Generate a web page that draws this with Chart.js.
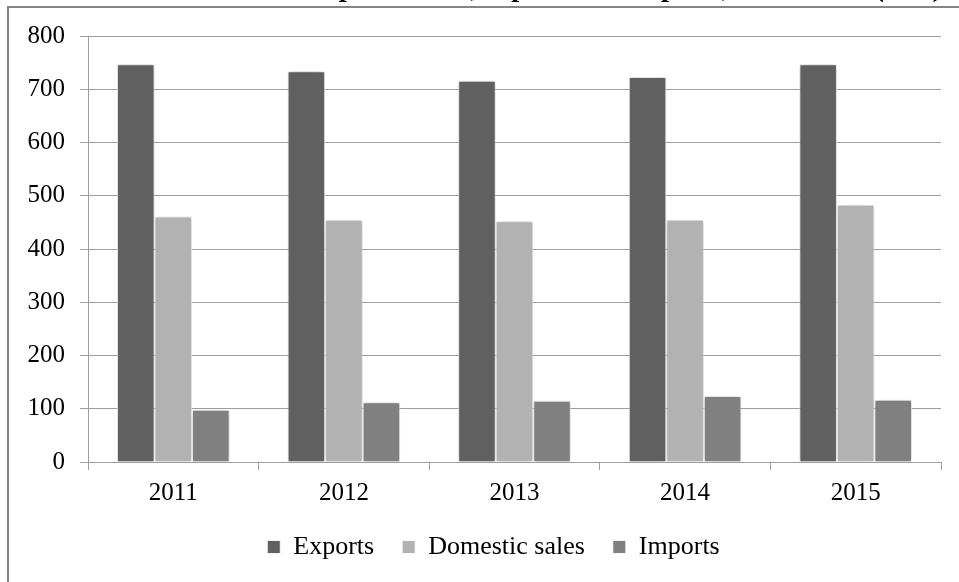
<!DOCTYPE html>
<html>
<head>
<meta charset="utf-8">
<script src="https://cdn.jsdelivr.net/npm/chart.js@4"></script>
<style>
  html, body { margin: 0; padding: 0; background: #fff; overflow: hidden; }
  #frame {
    position: absolute; left: 7px; top: 6px; width: 960px; height: 600px;
    border-left: 2px solid #858585; border-top: 2px solid #858585;
  }
  #wrap { position: absolute; left: 0; top: 0; width: 959px; height: 600px; }
</style>
</head>
<body>
<div id="frame"></div>
<div id="wrap"><canvas id="salesChart" width="959" height="600"></canvas></div>
<script>
// Data
const years = ["2011", "2012", "2013", "2014", "2015"];
const exportsData = [747, 734, 716, 723, 747];
const domesticData = [461, 455, 452, 455, 483];
const importsData = [98, 112, 115, 124, 117];
const yTicks = [0, 100, 200, 300, 400, 500, 600, 700, 800];

// Title line sits mostly above the visible area, only its descenders show
const titleText = "production, exports and imports, home sales (tons)";

const serif = "'Liberation Serif', 'Times New Roman', serif";
const gridGrey = "#9d9d9d";

// soft drop shadow under the bars
const barShadow = {
  id: "barShadow",
  beforeDatasetsDraw(chart) {
    const ctx = chart.ctx;
    ctx.save();
    ctx.shadowColor = "rgba(0, 0, 0, 0.28)";
    ctx.shadowBlur = 5;
  },
  afterDatasetsDraw(chart) {
    chart.ctx.restore();
  },
};

// y labels are clipped to the axis box, so widen the box to the left
const widenYBox = {
  id: "widenYBox",
  afterLayout(chart) {
    chart.scales.y.left = 0;
  },
};

const cutTitle = {
  id: "cutTitle",
  afterDraw(chart) {
    const ctx = chart.ctx;
    ctx.save();
    ctx.font = "italic bold 29px " + serif;
    ctx.fillStyle = "#000";
    ctx.textBaseline = "alphabetic";
    ctx.fillText(titleText, 341, -4);
    ctx.restore();
  },
};

const ctx = document.getElementById("salesChart").getContext("2d");
new Chart(ctx, {
  type: "bar",
  data: {
    labels: years,
    datasets: [
      { label: "Exports", data: exportsData, backgroundColor: "#606060" },
      { label: "Domestic sales", data: domesticData, backgroundColor: "#b2b2b2" },
      { label: "Imports", data: importsData, backgroundColor: "#808080" },
    ].map((d) => ({
      ...d,
      borderColor: "rgba(255, 255, 255, 0.85)",
      borderWidth: 1,
      categoryPercentage: 0.66,
      barPercentage: 1,
    })),
  },
  options: {
    responsive: false,
    animation: false,
    layout: { padding: { left: 46, right: 18, top: 36, bottom: 30 } },
    scales: {
      x: {
        afterFit(scale) {
          scale.height = 44;
        },
        grid: {
          drawOnChartArea: false,
          offset: true,
          color: gridGrey,
          tickLength: 8,
        },
        border: { color: gridGrey },
        ticks: {
          color: "#000",
          font: { family: serif, size: 25 },
          padding: 8,
        },
      },
      y: {
        min: 0,
        max: 800,
        afterFit(scale) {
          scale.width = 42;
        },
        afterBuildTicks(scale) {
          scale.ticks = yTicks.map((v) => ({ value: v }));
        },
        grid: { color: gridGrey, tickLength: 8 },
        border: { color: gridGrey },
        ticks: {
          color: "#000",
          font: { family: serif, size: 25 },
          padding: 15,
        },
      },
    },
    plugins: {
      legend: {
        position: "bottom",
        labels: {
          color: "#000",
          font: { family: serif, size: 26 },
          boxWidth: 13,
          boxHeight: 13,
          padding: 28,
        },
      },
      tooltip: { enabled: false },
    },
  },
  plugins: [barShadow, widenYBox, cutTitle],
});
</script>
</body>
</html>
